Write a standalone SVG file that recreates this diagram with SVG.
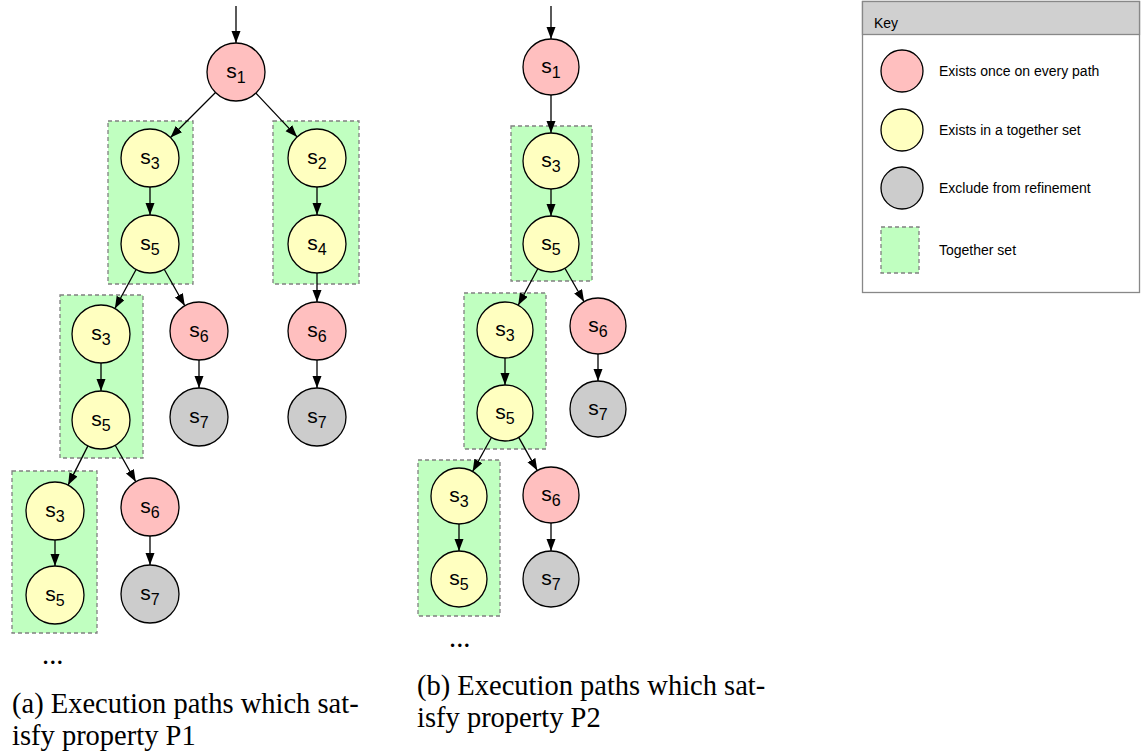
<svg xmlns="http://www.w3.org/2000/svg" width="1146" height="755" viewBox="0 0 1146 755">
<style>
.bg{fill:#ffffff}
.red{fill:#ffbfbf;stroke:#000;stroke-width:1.3}
.yel{fill:#ffffc0;stroke:#000;stroke-width:1.3}
.gry{fill:#cccccc;stroke:#000;stroke-width:1.3}
.set{fill:#c0ffc0;stroke:#808080;stroke-width:1.3;stroke-dasharray:4 3}
.lbl{font-family:"Liberation Sans",Arial,sans-serif;font-size:21px;fill:#000;text-anchor:middle}
.sub{font-size:16px}
.edge{stroke:#000;stroke-width:1.3;fill:none;marker-end:url(#ah)}
.key{font-family:"Liberation Sans",Arial,sans-serif;font-size:14px;fill:#000}
.cap{font-family:"Liberation Serif","Times New Roman",serif;font-size:28.5px;fill:#000}
</style>
<defs>
<marker id="ah" markerUnits="userSpaceOnUse" markerWidth="14" markerHeight="11" refX="12" refY="4.5" orient="auto">
<path d="M0,0 L12,4.5 L0,9 z" fill="#000"/>
</marker>
</defs>
<rect class="bg" x="0" y="0" width="1146" height="755"/>

<!-- together sets (a) -->
<g id="a-set1"><rect class="set" x="108" y="121" width="85" height="163"/></g>
<g id="a-set2"><rect class="set" x="273" y="121" width="86" height="163"/></g>
<g id="a-set3"><rect class="set" x="60" y="295" width="83" height="163"/></g>
<g id="a-set4"><rect class="set" x="12" y="471" width="85" height="162"/></g>
<!-- together sets (b) -->
<g id="b-set1"><rect class="set" x="511" y="126" width="81" height="155"/></g>
<g id="b-set2"><rect class="set" x="464" y="293" width="82" height="156"/></g>
<g id="b-set3"><rect class="set" x="418" y="460" width="82" height="156"/></g>

<g id="connectors">
<line class="edge" x1="236" y1="6" x2="236" y2="43"/>
<line class="edge" x1="215.5" y1="92.5" x2="170.5" y2="137.5"/>
<line class="edge" x1="255.9" y1="93.1" x2="297.1" y2="136.9"/>
<line class="edge" x1="150" y1="187" x2="150" y2="215"/>
<line class="edge" x1="317" y1="187" x2="317" y2="215"/>
<line class="edge" x1="136.1" y1="269.5" x2="114.9" y2="308.5"/>
<line class="edge" x1="164.2" y1="269.3" x2="184.8" y2="305.7"/>
<line class="edge" x1="317" y1="273" x2="317" y2="302"/>
<line class="edge" x1="101" y1="363" x2="101" y2="391"/>
<line class="edge" x1="199" y1="360" x2="199" y2="388"/>
<line class="edge" x1="317" y1="360" x2="317" y2="388"/>
<line class="edge" x1="87.9" y1="445.9" x2="68.1" y2="485.1"/>
<line class="edge" x1="115.2" y1="445.3" x2="135.8" y2="481.7"/>
<line class="edge" x1="55" y1="540" x2="55" y2="566"/>
<line class="edge" x1="150" y1="536" x2="150" y2="565"/>

<line class="edge" x1="551" y1="6" x2="551" y2="39"/>
<line class="edge" x1="551" y1="95" x2="551" y2="133"/>
<line class="edge" x1="551" y1="189" x2="551" y2="216"/>
<line class="edge" x1="537.8" y1="268.7" x2="518.2" y2="305.3"/>
<line class="edge" x1="564.9" y1="268.3" x2="584.1" y2="301.7"/>
<line class="edge" x1="505" y1="358" x2="505" y2="385"/>
<line class="edge" x1="598" y1="354" x2="598" y2="381"/>
<line class="edge" x1="491.4" y1="437.5" x2="472.6" y2="471.5"/>
<line class="edge" x1="518.7" y1="437.4" x2="537.3" y2="470.6"/>
<line class="edge" x1="459" y1="524" x2="459" y2="551"/>
<line class="edge" x1="551" y1="523" x2="551" y2="551"/>
</g>

<!-- nodes (a) -->
<g id="a-s1"><circle class="red" cx="236" cy="72" r="29"/><text class="lbl" x="236" y="78">s<tspan class="sub" dy="5">1</tspan></text></g>
<g id="a-s3a"><circle class="yel" cx="150" cy="158" r="29"/><text class="lbl" x="150" y="164">s<tspan class="sub" dy="5">3</tspan></text></g>
<g id="a-s5a"><circle class="yel" cx="150" cy="244" r="29"/><text class="lbl" x="150" y="250">s<tspan class="sub" dy="5">5</tspan></text></g>
<g id="a-s2"><circle class="yel" cx="317" cy="158" r="29"/><text class="lbl" x="317" y="164">s<tspan class="sub" dy="5">2</tspan></text></g>
<g id="a-s4"><circle class="yel" cx="317" cy="244" r="29"/><text class="lbl" x="317" y="250">s<tspan class="sub" dy="5">4</tspan></text></g>
<g id="a-s3b"><circle class="yel" cx="101" cy="334" r="29"/><text class="lbl" x="101" y="340">s<tspan class="sub" dy="5">3</tspan></text></g>
<g id="a-s5b"><circle class="yel" cx="101" cy="420" r="29"/><text class="lbl" x="101" y="426">s<tspan class="sub" dy="5">5</tspan></text></g>
<g id="a-s6b"><circle class="red" cx="199" cy="331" r="29"/><text class="lbl" x="199" y="337">s<tspan class="sub" dy="5">6</tspan></text></g>
<g id="a-s7b"><circle class="gry" cx="199" cy="417" r="29"/><text class="lbl" x="199" y="423">s<tspan class="sub" dy="5">7</tspan></text></g>
<g id="a-s6c"><circle class="red" cx="317" cy="331" r="29"/><text class="lbl" x="317" y="337">s<tspan class="sub" dy="5">6</tspan></text></g>
<g id="a-s7c"><circle class="gry" cx="317" cy="417" r="29"/><text class="lbl" x="317" y="423">s<tspan class="sub" dy="5">7</tspan></text></g>
<g id="a-s3c"><circle class="yel" cx="55" cy="511" r="29"/><text class="lbl" x="55" y="517">s<tspan class="sub" dy="5">3</tspan></text></g>
<g id="a-s5c"><circle class="yel" cx="55" cy="595" r="29"/><text class="lbl" x="55" y="601">s<tspan class="sub" dy="5">5</tspan></text></g>
<g id="a-s6d"><circle class="red" cx="150" cy="507" r="29"/><text class="lbl" x="150" y="513">s<tspan class="sub" dy="5">6</tspan></text></g>
<g id="a-s7d"><circle class="gry" cx="150" cy="594" r="29"/><text class="lbl" x="150" y="600">s<tspan class="sub" dy="5">7</tspan></text></g>

<!-- nodes (b) -->
<g id="b-s1"><circle class="red" cx="551" cy="67" r="28"/><text class="lbl" x="551" y="73">s<tspan class="sub" dy="5">1</tspan></text></g>
<g id="b-s3a"><circle class="yel" cx="551" cy="161" r="28"/><text class="lbl" x="551" y="167">s<tspan class="sub" dy="5">3</tspan></text></g>
<g id="b-s5a"><circle class="yel" cx="551" cy="244" r="28"/><text class="lbl" x="551" y="250">s<tspan class="sub" dy="5">5</tspan></text></g>
<g id="b-s3b"><circle class="yel" cx="505" cy="330" r="28"/><text class="lbl" x="505" y="336">s<tspan class="sub" dy="5">3</tspan></text></g>
<g id="b-s5b"><circle class="yel" cx="505" cy="413" r="28"/><text class="lbl" x="505" y="419">s<tspan class="sub" dy="5">5</tspan></text></g>
<g id="b-s6b"><circle class="red" cx="598" cy="326" r="28"/><text class="lbl" x="598" y="332">s<tspan class="sub" dy="5">6</tspan></text></g>
<g id="b-s7b"><circle class="gry" cx="598" cy="409" r="28"/><text class="lbl" x="598" y="415">s<tspan class="sub" dy="5">7</tspan></text></g>
<g id="b-s3c"><circle class="yel" cx="459" cy="496" r="28"/><text class="lbl" x="459" y="502">s<tspan class="sub" dy="5">3</tspan></text></g>
<g id="b-s5c"><circle class="yel" cx="459" cy="579" r="28"/><text class="lbl" x="459" y="585">s<tspan class="sub" dy="5">5</tspan></text></g>
<g id="b-s6c"><circle class="red" cx="551" cy="495" r="28"/><text class="lbl" x="551" y="501">s<tspan class="sub" dy="5">6</tspan></text></g>
<g id="b-s7c"><circle class="gry" cx="551" cy="579" r="28"/><text class="lbl" x="551" y="585">s<tspan class="sub" dy="5">7</tspan></text></g>

<!-- ellipses and captions -->
<text class="cap" x="42" y="664" font-size="22">...</text>
<text class="cap" x="449" y="647" font-size="22">...</text>
<g id="caption-a">
<text class="cap" x="12" y="713">(a) Execution paths which sat-</text>
<text class="cap" x="12" y="745">isfy property P1</text>
</g>
<g id="caption-b">
<text class="cap" x="417" y="695">(b) Execution paths which sat-</text>
<text class="cap" x="417" y="727">isfy property P2</text>
</g>

<!-- key -->
<g id="key">
<rect x="862.5" y="1.5" width="277" height="291" fill="#ffffff" stroke="#888888" stroke-width="1.3"/>
<rect x="862.5" y="1.5" width="277" height="33" fill="#d0d0d0" stroke="#888888" stroke-width="1.3"/>
<text class="key" x="874" y="28" font-size="16">Key</text>
<circle class="red" cx="902" cy="71" r="21"/>
<text class="key" x="939" y="76">Exists once on every path</text>
<circle class="yel" cx="902" cy="130" r="21"/>
<text class="key" x="939" y="135">Exists in a together set</text>
<circle class="gry" cx="902" cy="188" r="21"/>
<text class="key" x="939" y="193">Exclude from refinement</text>
<rect class="set" x="881" y="227" width="38" height="46"/>
<text class="key" x="939" y="255">Together set</text>
</g>
</svg>
